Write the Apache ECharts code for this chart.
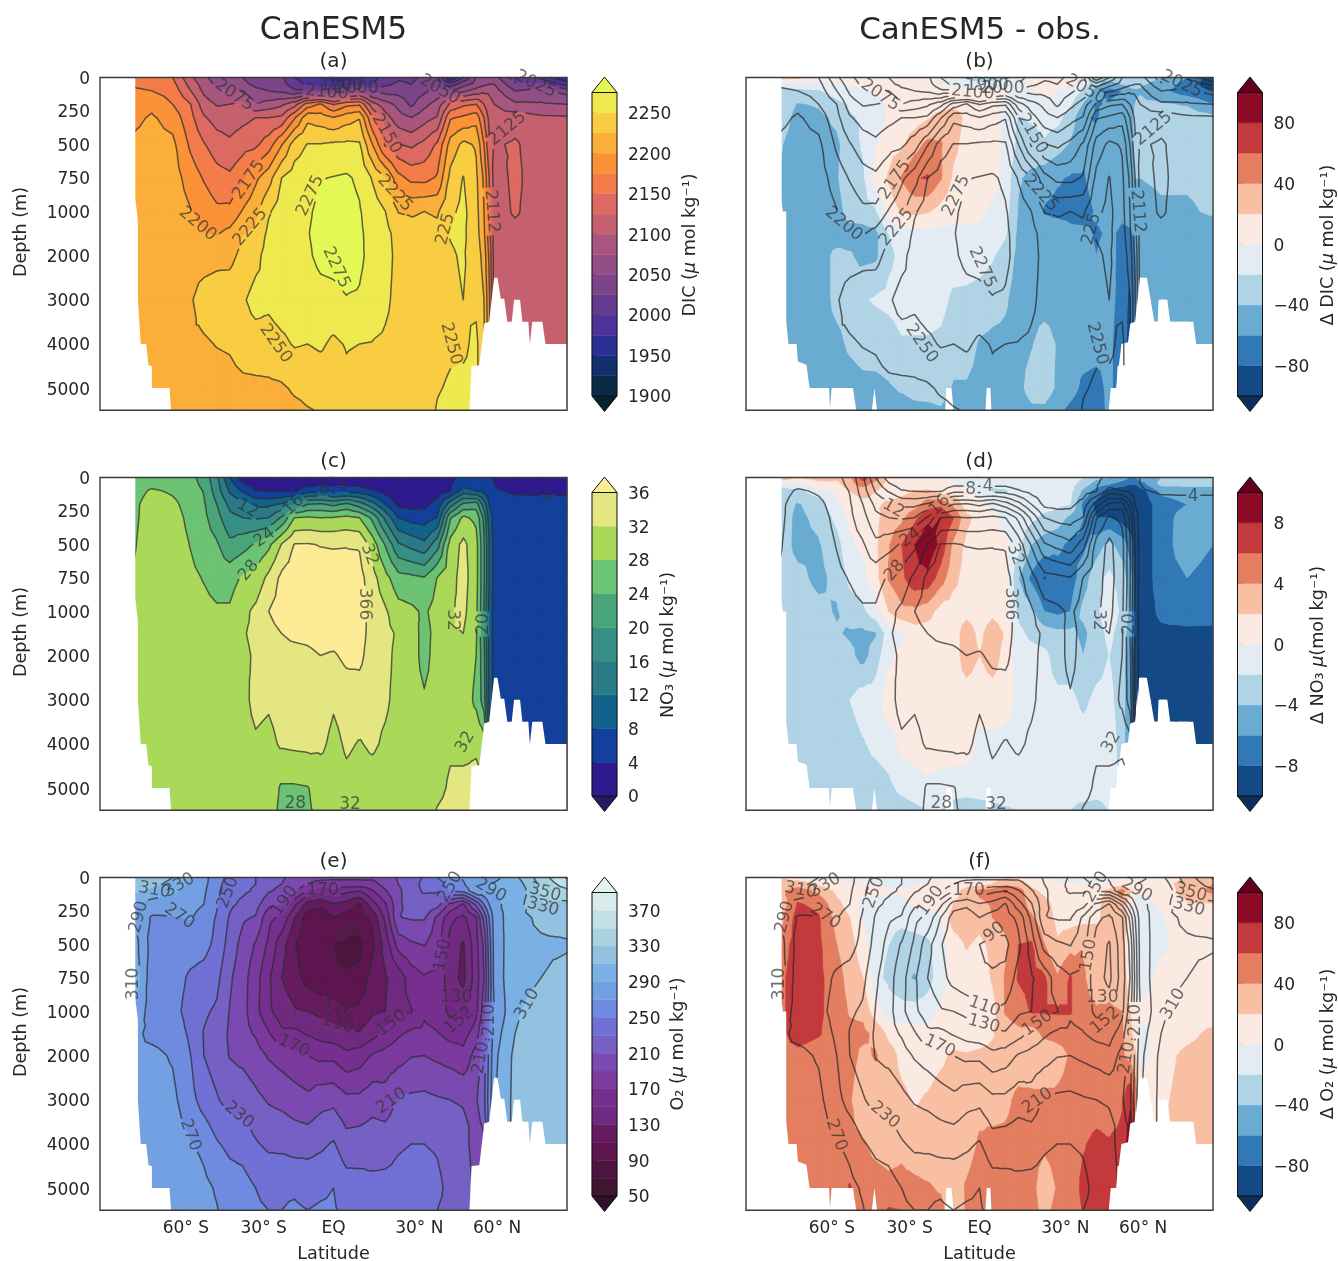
<!DOCTYPE html>
<html><head><meta charset="utf-8">
<style>html,body{margin:0;padding:0;background:#fff}#c{width:1338px;height:1261px}</style>
<script src="https://cdn.jsdelivr.net/npm/echarts@6/dist/echarts.min.js"></script>
</head><body><div id="c"></div>
<script>
const LAT=[-77,-70,-62,-55,-50,-45,-40,-35,-30,-25,-20,-15,-10,-5,0,5,10,15,20,25,30,35,40,45,50,55,58,60,62,70,80,90];
const DEPTH=[0,50,100,200,300,500,750,1000,1500,2000,3000,4000,5000,5500];
const LAT_TICKS=[-60,-30,0,30,60];
const LAT_TICK_LABELS=['60° S','30° S','EQ','30° N','60° N'];
const DEPTH_TICKS=[0,250,500,750,1000,2000,3000,4000,5000];
const DEPTH_TICKS_RIGHT=[0,500,1000,2000,3000,4000,5000];

// one row per latitude, one value per depth
const DIC=[
[2165,2172,2178,2186,2194,2205,2210,2212,2214,2215,2215,2215,2215,2215],
[2165,2170,2175,2194,2203,2210,2213,2215,2215,2215,2215,2215,2215,2215],
[2150,2158,2165,2175,2190,2206,2212,2216,2218,2218,2218,2216,2215,2215],
[2105,2115,2125,2150,2157,2170,2188,2201,2208,2215,2223,2222,2215,2215],
[2080,2088,2095,2112,2128,2152,2173,2190,2201,2215,2235,2222,2213,2212],
[2065,2070,2078,2098,2115,2137,2160,2180,2198,2218,2238,2226,2214,2212],
[2055,2065,2078,2100,2112,2130,2155,2181,2207,2218,2240,2228,2216,2212],
[2050,2055,2075,2105,2118,2140,2170,2202,2224,2232,2247,2238,2218,2214],
[2040,2045,2055,2075,2125,2145,2195,2218,2230,2243,2258,2240,2219,2215],
[2040,2042,2050,2085,2125,2163,2215,2247,2256,2260,2255,2240,2220,2215],
[2030,2035,2045,2095,2130,2198,2250,2262,2265,2268,2262,2245,2222,2216],
[2000,2010,2030,2115,2172,2238,2262,2266,2268,2270,2264,2252,2228,2220],
[1985,1995,2030,2162,2218,2251,2266,2272,2274,2272,2264,2250,2230,2224],
[1975,1990,2030,2178,2212,2251,2274,2280,2281,2280,2268,2254,2232,2226],
[1960,1980,2030,2148,2201,2254,2276,2282,2283,2281,2270,2245,2232,2228],
[1960,1985,2045,2168,2214,2255,2278,2283,2284,2284,2274,2252,2243,2235],
[1970,1990,2060,2172,2223,2253,2271,2277,2279,2279,2273,2250,2238,2232],
[1990,2000,2040,2110,2152,2200,2248,2262,2266,2268,2265,2249,2235,2232],
[2010,2020,2040,2085,2110,2146,2226,2250,2258,2260,2255,2246,2235,2232],
[2020,2030,2040,2068,2085,2126,2183,2224,2240,2242,2242,2240,2234,2232],
[2020,2025,2035,2045,2075,2120,2168,2222,2234,2238,2240,2238,2234,2232],
[2030,2035,2045,2068,2090,2132,2167,2225,2234,2238,2240,2240,2238,2235],
[2030,2040,2060,2085,2102,2154,2178,2222,2232,2238,2240,2242,2248,2252],
[1950,2010,2050,2130,2172,2210,2232,2245,2251,2248,2246,2246,2253,2258],
[2000,2040,2070,2145,2180,2231,2251,2256,2254,2252,2250,2246,2255,2258],
[2050,2060,2085,2150,2190,2222,2230,2234,2236,2240,2245,2255,2256,2258],
[2060,2070,2095,2125,2150,2175,2195,2200,2205,2215,2225,2230,2230,2230],
[2060,2075,2095,2110,2118,2130,2150,2155,2160,2170,2180,2185,2185,2185],
[2060,2075,2085,2100,2105,2122,2115,2114,2112,2112,2112,2112,2112,2112],
[2010,2030,2050,2080,2115,2128,2130,2128,2118,2112,2110,2110,2110,2110],
[1990,2030,2060,2078,2105,2112,2112,2112,2112,2112,2110,2110,2110,2110],
[1950,1990,2040,2075,2103,2110,2110,2110,2110,2108,2108,2108,2108,2108]];
const NO3=[
[26,26,26.5,27,27,27.5,28.5,29,29,29,29,29,29,29],
[25,27,28.5,30,30.5,31,31,31,30,30,30,30,30,30],
[25,26,27.5,28.8,29.5,30,30.5,30.5,30,30,30,30,30,30],
[25,25.5,26,26.5,27,27.8,28.8,29.5,30,30,30,30,30,30],
[22.5,23,23.8,24.5,25,26,27.8,29,30,30,30,30,30,30],
[17,17.5,18,20,21.5,24.5,26.5,28.5,30,30,30,30,30,30],
[8,10,11.5,15,17,21,26.5,28.5,30,30,30,30,30,30],
[2,4.5,7.5,13.5,16,22.5,28.5,31,31.8,31.5,31,30.5,30,30],
[1,2,4.3,11,15.5,24.5,29.5,32.8,32.5,32.3,33,31.5,30.5,30],
[1,2,3.8,11,16,27,33,36,35,34,32.5,31,30,30],
[1,2,3.5,12.5,20.5,32.2,37,37.5,36,34.5,33.5,32.5,27.5,27],
[1,2,3.5,16,28,36.2,38,38,37,34.5,33.5,32.8,27.5,27],
[1,3,6.5,20,28.5,36.3,38.5,38.5,37.2,35,34,33,27.8,27.5],
[1,3,6.8,20.5,28,35.8,38.5,38.5,38,36,34,32.8,29.5,29],
[1,3,6.3,19,28.2,35.6,38.5,38.8,38,35.5,32.5,31,30,30],
[1,3,6.6,21,29,35.7,38.5,38.8,38.5,37,33.5,32.5,31,30.5],
[1,3,6.2,18,28,35.6,37.5,38,38,37,34,31.8,30.5,30],
[1,2,4.4,13.5,23,30.2,33.5,34.5,34,34,33,32.5,30.5,30],
[1,1.5,2.5,8,15,23.6,29.3,32.5,33,33,32.5,31.5,30,30],
[0.8,1,1.5,3,8,16.5,25.5,29.5,31.5,31,31,30.5,30,30],
[0.5,0.8,1,2.5,6.5,14.7,25,28.8,30,30,30,30,30,30],
[0.5,0.8,1.2,3,6,13,24.3,27.4,26.5,26.5,28.5,30,30,30],
[0.8,1.5,2,5.5,8.2,18.3,28.1,29.5,29.5,30,30,30.5,31,32.2],
[3,3.5,3.8,14,23.5,29.5,30.5,31.5,31.8,30.8,30.5,31.5,32.5,33],
[5,6.5,9.5,21,28.8,33,33.5,33,32,31,30.5,31,33,33.5],
[5,6,8,22,27,29.5,29.5,29,28.5,28,27,31.5,33,33.5],
[5,6,7,14,19,20.5,20.5,20,20,21,22,30,33,33],
[4.5,5.5,6,8,10,12,12,11,11,11,11,15,30,30],
[3.8,4,4.3,6,6,6,6,6,6,6,6,6,6,6],
[2,2.5,3.6,5,6,6.5,6.5,6.5,6.5,6.5,6.5,6.5,6.5,6.5],
[2,2.5,3.5,5,6,6.5,6.5,6.5,6.5,6.5,6.5,6.5,6.5,6.5],
[2,2.5,3.5,5,6,6.5,6.5,6.5,6.5,6.5,6.5,6.5,6.5,6.5]];
const O2=[
[325,322,315,292,285,300,305,290,275,272,272,272,272,272],
[320,315,305,280,268,262,258,258,265,275,280,280,280,280],
[310,305,295,275,269,262,258,256,262,268,275,280,285,285],
[292,285,282,276,271,258,247,243,246,250,256,271,283,285],
[275,275,273,270,262,256,243,233,229,230,242,265,275,276],
[262,258,255,252,248,245,235,227,222,220,232,252,268,271],
[242,238,236,234,228,222,213,209,207,209,222,245,260,262],
[235,232,233,226,213,203,198,197,196,205,222,242,258,260],
[230,230,228,218,208,188,178,176,188,198,215,232,250,252],
[218,215,212,195,175,166,153,154,172,188,208,226,246,250],
[212,210,205,190,165,138,130,140,154,182,205,225,248,250],
[205,203,195,155,130,112,118,132,155,175,200,222,248,252],
[200,190,170,120,100,95,102,130,148,170,195,222,245,250],
[198,178,155,115,95,90,94,125,142,165,203,226,247,252],
[195,180,165,128,110,90,92,118,138,165,205,232,250,252],
[195,180,155,122,100,85,92,110,135,155,195,218,240,245],
[195,180,150,108,100,85,95,115,132,160,195,220,238,242],
[195,182,168,142,115,105,118,127,142,172,202,222,235,238],
[202,198,188,168,155,138,128,130,155,178,198,222,236,238],
[212,210,205,205,209,178,138,148,167,182,212,228,236,240],
[222,222,225,222,212,187,160,149,174,189,214,230,238,242],
[232,235,232,222,212,191,168,167,174,190,215,230,238,240],
[250,240,232,218,186,178,165,162,171,186,212,228,234,230],
[262,258,252,185,155,142,138,145,163,182,210,222,225,225],
[272,268,255,168,145,128,125,142,162,176,208,218,222,222],
[280,285,288,215,168,162,160,165,180,198,208,200,205,205],
[280,285,285,250,215,195,190,200,215,220,225,205,205,205],
[285,290,288,270,250,240,235,240,250,255,260,260,260,260],
[285,292,290,285,280,278,278,270,280,285,288,288,288,288],
[305,298,292,300,303,304,305,308,310,315,316,316,316,316],
[340,335,332,329,314,307,310,316,318,318,318,318,318,318],
[372,360,345,325,318,308,316,318,318,318,318,318,318,318]];
const D_DIC=[
[30,-15,-28,-25,-28,-38,-42,-45,-48,-50,-50,-50,-50,-50],
[25,-10,-25,-42,-48,-50,-50,-50,-50,-50,-50,-50,-50,-50],
[8,-8,-22,-38,-45,-48,-50,-50,-50,-50,-50,-50,-50,-50],
[5,-3,-12,-25,-36,-44,-42,-48,-50,-35,-35,-45,-50,-50],
[8,2,-8,-18,-22,-30,-28,-32,-48,-38,-32,-37,-48,-50],
[12,6,-4,-14,-18,-18,-24,-30,-48,-46,-22,-33,-45,-50],
[15,10,2,-6,-10,-2,8,-22,-45,-44,-18,-32,-45,-48],
[14,10,5,2,2,12,22,8,-20,-25,-15,-30,-42,-45],
[12,10,5,4,6,16,42,22,-10,-15,-12,-22,-38,-48],
[10,8,6,6,10,32,58,25,-8,-12,-12,-22,-34,-45],
[6,6,6,8,18,45,62,22,-6,-12,-12,-22,-32,-45],
[-8,0,5,10,28,42,42,12,-6,-10,-14,-24,-32,-42],
[-15,-5,6,15,32,25,16,8,-6,-10,-24,-32,-42,-50],
[-25,-10,6,10,14,12,10,6,-5,-10,-25,-32,-42,-46],
[-35,-15,5,8,8,10,10,3,-4,-12,-28,-42,-45,-46],
[-35,-12,4,5,6,10,8,-4,-8,-18,-32,-45,-44,-50],
[-25,-10,2,-2,-5,-6,-8,-12,-18,-28,-38,-44,-48,-55],
[-10,-4,-2,-8,-22,-25,-38,-42,-45,-46,-48,-48,-48,-55],
[0,3,-2,-10,-18,-28,-45,-47,-48,-50,-50,-42,-30,-45],
[15,18,8,-6,-14,-22,-52,-62,-50,-50,-50,-30,-28,-45],
[12,15,-2,-8,-14,-32,-58,-65,-50,-50,-50,-42,-44,-55],
[8,4,-8,-18,-30,-42,-62,-65,-56,-50,-50,-50,-52,-65],
[-4,-10,-22,-42,-58,-55,-62,-68,-56,-54,-50,-50,-65,-72],
[-40,-35,-50,-62,-62,-52,-52,-58,-62,-60,-55,-52,-68,-72],
[-30,-50,-68,-58,-50,-48,-50,-55,-58,-55,-52,-55,-55,-55],
[-25,-40,-60,-50,-46,-48,-50,-58,-62,-65,-70,-75,-75,-75],
[-30,-35,-45,-44,-44,-46,-48,-55,-62,-72,-85,-85,-85,-85],
[-30,-35,-42,-40,-38,-38,-40,-52,-58,-60,-62,-62,-62,-62],
[-35,-38,-42,-36,-32,-34,-40,-45,-47,-48,-48,-48,-48,-48],
[-40,-45,-55,-38,-30,-30,-38,-42,-48,-50,-50,-50,-50,-50],
[-60,-70,-72,-42,-30,-30,-38,-42,-48,-50,-50,-50,-50,-50],
[-95,-92,-82,-60,-35,-32,-36,-38,-48,-45,-50,-50,-50,-50]];
const D_NO3=[
[4,-1.5,-3,-3,-3,-3,-3,-3,-3,-3,-3,-3,-3,-3],
[2,-0.5,-2.5,-4.2,-4.5,-4.6,-3.5,-3,-3,-3,-3,-3,-3,-3],
[3,1,-1,-3,-3.5,-4.2,-4.5,-3.5,-3,-3,-3,-3,-3,-3],
[2.5,1.5,0.5,-0.5,-1.5,-2.8,-3.5,-4.2,-3.8,-3,-3,-3,-3,-3],
[3.5,3,2,1.2,0.5,-0.5,-1.5,-3,-4.3,-3.5,-2,-3,-3,-3],
[7,5,2.5,1.6,1,0.5,-0.8,-2.5,-4.5,-4.8,-1,-2.2,-3,-3],
[5,3,2,1.8,1.5,1.6,1.3,-0.7,-4.2,-3,-1,-1.5,-3,-3],
[1.5,1.2,1.2,2.2,3,3.8,4.2,2,-1,-0.5,1.2,-1,-2.5,-3],
[0.8,1,1.6,2.5,3.5,6,5.5,3.5,-0.5,0.6,1,0.6,-1.5,-3],
[0.8,1,2,3,5.5,8,7.5,3.5,1,1,1,1,-1,-2.5],
[0.6,1,2.2,5,7.5,9.5,7.5,2.8,1,1,1,1,-0.5,-2],
[0.3,0.5,1,5.5,8,7.5,5,1.2,1,1,1,1,-0.8,-2],
[-0.3,0.3,0.8,3.5,6,3.5,2.5,1,1,1,1,1,-1,-3],
[-1,-0.8,0.3,0.8,2.5,1.5,1.2,1.4,3,3,1,0.8,-1,-3.5],
[-1.2,-1.5,-0.6,0.5,1.2,0.8,0.8,0.9,1.5,2,0.8,-0.5,-1,-3],
[-1.2,-1.8,-2.2,-0.5,0.5,0.8,1,1.5,3,3,1,-0.5,-1.2,-2.5],
[-1,-1.5,-2.2,-1.2,-0.8,0.5,0.8,1,1.8,1.2,0.8,-0.6,-1.2,-2.2],
[-0.8,-1,-1.2,-1.5,-1.5,-1.2,-4,-2.5,-1.5,-1,-0.6,-0.8,-1.2,-2],
[-0.5,-0.8,-1,-1.2,-1.5,-4,-6.5,-3.5,-2.5,-1.2,-1,-0.8,-1,-2],
[-0.5,-0.8,-1,-1.2,-2.5,-5,-8.2,-6,-3,-1.5,-1.2,-0.8,-0.8,-1.5],
[-0.5,-0.8,-0.8,-1.5,-3,-5.5,-7,-6.5,-3.5,-3,-1.5,-0.8,-0.8,-1.5],
[-1,-1.2,-1.5,-2,-4.5,-6.5,-7,-6,-3.5,-3,-1.5,-0.8,-1.5,-2],
[-2,-3,-4.5,-6.5,-6,-6.5,-5,-3.5,-4.5,-4,-2.5,-1,-1.2,-2.5],
[-3.5,-5,-7,-8.5,-8,-5,-2.8,-2.5,-3,-3,-1.5,-0.8,-1.5,-2.5],
[-4,-6,-9,-9.5,-8,-3.5,-1.5,-0.7,-1.5,-2,-1.5,-0.8,-1.5,-2],
[-5,-7,-10,-10,-9,-5,-3,-2.5,-3,-3,-3,-3,-2,-2],
[-6,-8,-10,-10,-9.5,-7,-5,-4.5,-5,-6,-6,-6,-6,-6],
[-6,-8,-10,-10,-10,-9.5,-9,-9,-9,-9.5,-9.5,-9.5,-9.5,-9.5],
[-5,-7,-9,-9.5,-9.5,-9.5,-9.5,-9.5,-9.5,-9.5,-9.5,-9.5,-9.5,-9.5],
[-4,-3.5,-5.5,-7,-7,-7,-7,-7.5,-8.5,-9,-9,-9,-9,-9],
[-2.5,-3.5,-5,-6,-5,-4.8,-6,-7,-8.5,-9,-9,-9,-9,-9],
[-2.5,-3.5,-5,-6,-5,-6,-7,-7.2,-8.5,-9,-9,-9,-9,-9]];
const D_O2=[
[20,25,35,25,30,48,55,55,55,55,55,55,55,55],
[10,30,50,62,70,70,70,70,68,55,55,50,50,50],
[8,15,35,55,62,64,65,64,62,50,48,46,45,45],
[-5,8,15,25,32,40,48,50,48,46,45,45,45,45],
[-8,2,10,12,20,28,32,38,45,48,42,45,62,58],
[-5,4,8,-8,-2,8,20,35,45,35,25,42,48,55],
[-8,0,6,-10,-12,-14,-14,8,35,42,28,35,48,50],
[-10,-4,2,-8,-14,-20,-25,-10,15,28,28,32,45,62],
[-12,-6,2,-5,-14,-30,-35,-12,10,15,24,35,46,60],
[-8,-2,5,2,-8,-30,-42,-12,8,12,18,28,45,55],
[-2,2,6,3,-5,-25,-30,-8,6,10,22,28,42,46],
[-2,2,6,5,-2,-8,-8,4,6,15,30,30,38,45],
[1,4,10,20,30,10,8,6,6,24,32,32,30,25],
[1,8,30,25,35,22,8,6,6,22,32,32,42,42],
[2,12,45,35,28,15,8,8,8,25,35,42,50,45],
[8,20,48,42,40,25,22,12,18,25,32,45,45,45],
[18,35,62,48,48,35,42,42,30,25,35,45,48,50],
[15,30,50,48,48,60,62,50,35,28,45,48,50,50],
[8,15,25,35,42,62,65,62,30,25,45,48,48,50],
[3,5,15,28,30,40,62,62,45,22,45,45,25,32],
[-5,3,6,12,15,22,42,62,48,30,45,48,42,48],
[-8,2,6,10,12,32,62,62,48,42,48,48,46,46],
[-5,2,5,8,14,38,42,45,45,45,46,58,66,62],
[-8,2,8,14,15,35,30,42,46,45,48,66,70,70],
[-10,5,25,30,30,22,35,42,44,42,48,62,70,70],
[-5,10,48,30,32,25,30,40,42,42,58,65,70,70],
[-3,5,25,8,10,8,8,20,30,35,75,95,95,95],
[-2,2,2,-8,-8,-8,-5,5,5,25,55,55,55,55],
[0,3,2,-8,-12,-14,-12,5,-5,-8,10,10,10,10],
[8,12,8,4,-2,-5,6,8,6,12,16,20,20,20],
[22,28,28,18,12,10,8,8,14,25,28,30,30,30],
[35,40,45,18,10,8,8,8,25,30,30,30,30,30]];

// white land / missing-data outlines, [latitude, depth]
const LAND_S=[[-90,0],[-76.4,0],[-76.4,900],[-75.4,1200],[-75.4,3000],[-74.3,4000],[-72.2,4000],[-71.3,4480],[-70,4500],[-70,5000],[-63.2,5000],[-62.6,5500],[-90,5500]];
const LAND_N=[[52.4,5500],[53.2,4500],[56.2,4480],[58.1,3540],[60,3500],[61.9,2500],[63.2,2500],[64.5,2980],[65.8,2980],[67,3500],[68.7,3500],[69.6,3000],[71.9,3000],[72.8,3500],[75.1,3500],[75.7,4000],[76.6,3500],[80.5,3500],[81.7,4000],[90,4000],[90,5500]];
const OBS_S=[[-90,0],[-76.3,0],[-76.3,1000],[-74.5,1000],[-74.5,3500],[-73.6,4000],[-70.5,4000],[-70,4400],[-66.7,4470],[-65.5,5000],[-58,5000],[-57.6,5450],[-57,5000],[-48.8,5000],[-47.5,5500],[-90,5500]];
const OBS_N=[[49.8,5500],[50.6,5000],[52.7,5000],[54.7,4000],[57.9,3950],[59.8,3500],[61.5,2500],[64.5,2500],[67.4,3500],[68.7,3500],[69,3000],[72.4,3000],[73.5,3500],[82.4,3500],[83.5,4000],[90,4000],[90,5500]];
const OBS_GAP1=[[-41.5,5500],[-40.5,5000],[-39.5,5500]];
const OBS_GAP2=[[-13.2,5500],[-12.8,5000],[-10.8,5000],[-10,5500]];
const OBS_GAP3=[[2.3,5500],[2.8,5000],[4.2,5000],[4.6,5500]];

// inline contour labels: text, latitude, depth, angle
const DIC_LABELS=[['2075',-38.3,132,-35],['2050',40.9,90,-30],['2025',77.9,50,-25],['2100',-2.6,112,-5],['1900',3,60,0],['2000',9,85,0],
['2125',67,382,40],['2150',20.4,420,-60],['2175',-32.6,765,55],['2200',-52.4,1285,-40],['2225',-32,1360,50],['2225',23.6,865,-48],
['2275',-8.9,882,65],['2275',1,2270,-65],['2250',-22.3,3995,-55],['2250',45.3,3995,-75],['225',43.2,1400,75],['2112',61,1000,-85]];
const NO3_LABELS=[['4',3.2,65,0],['8',-3.4,90,0],['12',-33.2,232,-30],['16',-15.3,207,45],['24',-26.6,450,35],['28',-32.6,695,50],['32',13.8,575,-70],
['366',12.1,945,-90],['32',46,1195,-90],['20',57.9,1285,90],['4',82.4,140,0],['32',50.8,3960,60],['28',-14.7,5350,0],['32',6.4,5365,0]];
const O2_LABELS=[['310',-69,95,-10],['330',-59.4,58,30],['290',-75,295,75],['270',-59.4,290,-35],['250',-40.6,112,70],['190',-18.8,175,55],['170',-4.2,100,0],
['90',5.7,408,40],['150',42.1,580,80],['130',47.3,900,0],['110',1.9,965,-20],['130',1.7,1285,-15],['150',22.4,1270,35],['152',48.5,1210,40],['170',-15.3,1790,-25],
['310',-77,795,90],['210',22.4,3030,35],['230',-36.4,3350,-40],['270',-55.2,3800,-70],['290',60.6,95,-30],['350',81.5,112,-15],['330',80.7,220,-15],['310',74.7,945,60],
['250',45,70,60],['210',60,1200,90],['210',56.8,2050,80]];

const DIC_LEVELS=[1900,1925,1950,1975,2000,2025,2050,2075,2100,2125,2150,2175,2200,2225,2250,2275];
const DIC_COLORS=['#04222f','#0b2a45','#13306e','#2b2f93','#4f3299','#653a91','#7c4589','#924f86','#a85680','#c5616f','#dd6a62','#f47c4a','#fb9238','#fbae3a','#f8cd42','#efe950','#e4f855'];
const DIC_TICKS=[1900,1950,2000,2050,2100,2150,2200,2250];
const NO3_LEVELS=[0,4,8,12,16,20,24,28,32,36];
const NO3_COLORS=['#2a1865','#2e1a8c','#12409a','#11638c','#2b7a88','#378f85','#4aa67a','#6cc373','#aad95a','#e4e682','#fdeb96'];
const NO3_TICKS=[0,4,8,12,16,20,24,28,32,36];
const O2_LEVELS=[50,70,90,110,130,150,170,190,210,230,250,270,290,310,330,350,370,390];
const O2_COLORS=['#30102a','#3f1530','#4e1440','#5d1550','#661b60','#702a80','#772f8f','#7a3a9e','#7a4ab0','#7560c4','#7070d5','#6f8be0','#72a0e2','#7ab0e4','#92c2e0','#a8d2e0','#c2e0e5','#d9ebea','#e6f2ef'];
const O2_TICKS=[50,90,130,170,210,250,290,330,370];
const RDBU=['#0a3060','#134a86','#3078b6','#6aabd1','#b0d3e6','#e4ecf3','#faeae1','#f8bfa3','#e47e60','#c23a3b','#8b0a26','#650021'];
const D_DIC_LEVELS=[-100,-80,-60,-40,-20,0,20,40,60,80,100];
const D_DIC_TICKS=[-80,-40,0,40,80];
const D_NO3_LEVELS=[-10,-8,-6,-4,-2,0,2,4,6,8,10];
const D_NO3_TICKS=[-8,-4,0,4,8];

const FONT='"DejaVu Sans"';
const INK='#262626';
const FS=17;
const NAME_FS=17.6;
const yT=d=>d<=1000?d:1000+(d-1000)*0.33;
const Y_MAX=yT(5500);

echarts.graphic.registerShape('polys',echarts.graphic.extendShape({
  shape:{polys:[]},
  buildPath(ctx,s){for(const p of s.polys){ctx.moveTo(p[0],p[1]);for(let i=2;i<p.length;i+=2)ctx.lineTo(p[i],p[i+1]);ctx.closePath();}}
}));
echarts.graphic.registerShape('segs',echarts.graphic.extendShape({
  shape:{segs:[]},
  buildPath(ctx,s){for(const g of s.segs){ctx.moveTo(g[0],g[1]);ctx.lineTo(g[2],g[3]);}}
}));

function cellsOf(field,api){
  const cells=[];
  for(let i=0;i<LAT.length-1;i++)for(let j=0;j<DEPTH.length-1;j++){
    const c=[[i,j],[i+1,j],[i+1,j+1],[i,j+1]].map(([a,b])=>{const p=api.coord([LAT[a],yT(DEPTH[b])]);return [p[0],p[1],field[a][b]];});
    const m=[0,1,2].map(k=>(c[0][k]+c[1][k]+c[2][k]+c[3][k])/4);
    cells.push({c,tris:[[c[0],c[1],m],[c[1],c[2],m],[c[2],c[3],m],[c[3],c[0],m]]});
  }
  return cells;
}
function clipKeep(poly,level,above){
  const out=[];const n=poly.length;
  for(let i=0;i<n;i++){
    const a=poly[i],b=poly[(i+1)%n];
    const ia=above?a[2]>=level:a[2]<=level,ib=above?b[2]>=level:b[2]<=level;
    if(ia)out.push(a);
    if(ia!==ib){const t=(level-a[2])/(b[2]-a[2]);out.push([a[0]+t*(b[0]-a[0]),a[1]+t*(b[1]-a[1]),level]);}
  }
  return out;
}
function fillSeries(gi,field,levels,colors){
  const bands=colors.map((col,k)=>[k===0?-1e9:levels[k-1],k===colors.length-1?1e9:levels[k]]);
  let cells=null;
  return {type:'custom',coordinateSystem:'cartesian2d',xAxisIndex:gi,yAxisIndex:gi,z:2,silent:true,
    data:bands.map((b,k)=>[0,0,k]),
    renderItem(params,api){
      if(!cells)cells=cellsOf(field,api);
      const k=params.dataIndex,lo=bands[k][0],hi=bands[k][1],polys=[];
      for(const cell of cells){
        const vs=cell.c.map(p=>p[2]);
        const mn=Math.min(...vs),mx=Math.max(...vs);
        if(mx<lo||mn>hi)continue;
        if(mn>=lo&&mx<=hi){polys.push(cell.c.flatMap(p=>[p[0],p[1]]));continue;}
        for(const t of cell.tris){
          let p=clipKeep(t,lo,true);if(p.length<3)continue;
          p=clipKeep(p,hi,false);if(p.length<3)continue;
          polys.push(p.flatMap(q=>[q[0],q[1]]));
        }
      }
      return {type:'polys',shape:{polys},style:{fill:colors[k],stroke:colors[k],lineWidth:0.7}};
    }};
}
function maskSeries(gi,outlines,z){
  return {type:'custom',coordinateSystem:'cartesian2d',xAxisIndex:gi,yAxisIndex:gi,z,silent:true,
    data:outlines.map((o,k)=>[0,0,k]),
    renderItem(params,api){
      const o=outlines[params.dataIndex];
      return {type:'polygon',shape:{points:o.map(p=>api.coord([p[0],yT(p[1])]))},style:{fill:'#fff'}};
    }};
}
function cutSegment(a,b,boxes){
  let spans=[[0,1]];
  for(const bx of boxes){
    const dx=b[0]-a[0],dy=b[1]-a[1];
    const u0=(a[0]-bx.x)*bx.c+(a[1]-bx.y)*bx.s,v0=-(a[0]-bx.x)*bx.s+(a[1]-bx.y)*bx.c;
    const du=dx*bx.c+dy*bx.s,dv=-dx*bx.s+dy*bx.c;
    let t0=0,t1=1,hit=true;
    for(const [p,q] of [[-du,u0+bx.w],[du,bx.w-u0],[-dv,v0+bx.h],[dv,bx.h-v0]]){
      if(p===0){if(q<0)hit=false;continue;}
      const r=q/p;
      if(p<0){if(r>t0)t0=r;}else{if(r<t1)t1=r;}
    }
    if(!hit||t0>=t1)continue;
    const next=[];
    for(const [s,e] of spans){
      if(t1<=s||t0>=e){next.push([s,e]);continue;}
      if(t0>s)next.push([s,t0]);
      if(t1<e)next.push([t1,e]);
    }
    spans=next;
  }
  return spans.map(([s,e])=>[a[0]+s*(b[0]-a[0]),a[1]+s*(b[1]-a[1]),a[0]+e*(b[0]-a[0]),a[1]+e*(b[1]-a[1])]);
}
function lineSeries(gi,field,levels,labels){
  let cells=null,boxes=null;
  return {type:'custom',coordinateSystem:'cartesian2d',xAxisIndex:gi,yAxisIndex:gi,z:4,silent:true,
    data:levels.map((l,k)=>[0,0,k]),
    renderItem(params,api){
      if(!cells){
        cells=cellsOf(field,api);
        boxes=labels.map(l=>{const p=api.coord([l[1],yT(l[2])]);const r=-l[3]*Math.PI/180;
          return {x:p[0],y:p[1],c:Math.cos(r),s:Math.sin(r),w:l[0].length*17*0.33+2,h:7};});
      }
      const lv=levels[params.dataIndex],segs=[];
      for(const cell of cells)for(const t of cell.tris){
        const pts=[];
        for(let i=0;i<3;i++){
          const a=t[i],b=t[(i+1)%3];
          if((a[2]<lv)!==(b[2]<lv)){const f=(lv-a[2])/(b[2]-a[2]);pts.push([a[0]+f*(b[0]-a[0]),a[1]+f*(b[1]-a[1])]);}
        }
        if(pts.length===2)segs.push(...cutSegment(pts[0],pts[1],boxes));
      }
      return {type:'segs',shape:{segs},style:{fill:null,stroke:'rgba(40,40,40,0.72)',lineWidth:1.5,lineCap:'round'}};
    }};
}
function labelSeries(gi,labels){
  return {type:'custom',coordinateSystem:'cartesian2d',xAxisIndex:gi,yAxisIndex:gi,z:6,silent:true,
    data:labels.map((l,k)=>[l[1],yT(l[2]),k]),
    renderItem(params,api){
      const l=labels[params.dataIndex],p=api.coord([l[1],yT(l[2])]);
      return {type:'text',x:p[0],y:p[1],rotation:l[3]*Math.PI/180,
        style:{text:l[0],fontFamily:FONT,fontSize:17,fill:'rgba(50,50,50,0.7)',align:'center',verticalAlign:'middle'}};
    }};
}
function frameSeries(gi){
  return {type:'custom',coordinateSystem:'cartesian2d',xAxisIndex:gi,yAxisIndex:gi,z:7,silent:true,
    data:[[0,0]],
    renderItem(params,api){
      const a=api.coord([-90,0]),b=api.coord([90,Y_MAX]);
      return {type:'rect',shape:{x:a[0],y:a[1],width:b[0]-a[0],height:b[1]-a[1]},style:{fill:null,stroke:'#3a3a3a',lineWidth:1.4}};
    }};
}
function cbSeries(gi,levels,colors){
  const n=levels.length-1;
  return {type:'custom',coordinateSystem:'cartesian2d',xAxisIndex:gi,yAxisIndex:gi,z:3,silent:true,
    data:colors.map((c,k)=>[0.5,k===0?levels[0]:levels[k-1],k]),
    renderItem(params,api){
      const k=params.dataIndex;
      const L=api.coord([0,levels[0]]),R=api.coord([1,levels[0]]),T=api.coord([0,levels[n]]);
      const tip=15.5,mid=(L[0]+R[0])/2;
      if(k===0)return {type:'polygon',shape:{points:[[L[0],L[1]],[R[0],L[1]],[mid,L[1]+tip]]},style:{fill:colors[0],stroke:'#111',lineWidth:1}};
      if(k===colors.length-1)return {type:'polygon',shape:{points:[[L[0],T[1]],[R[0],T[1]],[mid,T[1]-tip]]},style:{fill:colors[k],stroke:'#111',lineWidth:1}};
      const a=api.coord([0,levels[k-1]]),b=api.coord([1,levels[k]]);
      return {type:'rect',shape:{x:a[0],y:b[1],width:b[0]-a[0],height:a[1]-b[1]},style:{fill:colors[k],stroke:colors[k],lineWidth:0.4}};
    }};
}

const panels=[
 {x:100,y:77,f:DIC,lv:DIC_LEVELS,col:DIC_COLORS,line:DIC,lineLv:DIC_LEVELS,lab:DIC_LABELS,cbt:DIC_TICKS,right:false,row:0},
 {x:746,y:77,f:D_DIC,lv:D_DIC_LEVELS,col:RDBU,line:DIC,lineLv:DIC_LEVELS,lab:DIC_LABELS,cbt:D_DIC_TICKS,right:true,row:0},
 {x:100,y:477,f:NO3,lv:NO3_LEVELS,col:NO3_COLORS,line:NO3,lineLv:NO3_LEVELS,lab:NO3_LABELS,cbt:NO3_TICKS,right:false,row:1},
 {x:746,y:477,f:D_NO3,lv:D_NO3_LEVELS,col:RDBU,line:NO3,lineLv:NO3_LEVELS,lab:NO3_LABELS,cbt:D_NO3_TICKS,right:true,row:1},
 {x:100,y:877,f:O2,lv:O2_LEVELS,col:O2_COLORS,line:O2,lineLv:O2_LEVELS,lab:O2_LABELS,cbt:O2_TICKS,right:false,row:2},
 {x:746,y:877,f:D_O2,lv:D_DIC_LEVELS,col:RDBU,line:O2,lineLv:O2_LEVELS,lab:O2_LABELS,cbt:D_DIC_TICKS,right:true,row:2}];

const grid=[],xAxis=[],yAxis=[],series=[];
const tickStyle={show:true,length:5,lineStyle:{color:'#333',width:1.3}};
panels.forEach((p,i)=>{
  const bottom=p.row===2;
  grid.push({left:p.x,top:p.y+0.5,width:467,height:332.7,containLabel:false,outerBoundsMode:'none'});
  xAxis.push({gridIndex:i,type:'value',min:-90,max:90,splitLine:{show:false},axisLine:{show:false},
    name:bottom?'Latitude':'',nameLocation:'middle',nameGap:35,nameTextStyle:{fontFamily:FONT,fontSize:NAME_FS,color:INK},
    axisTick:bottom?{...tickStyle,customValues:LAT_TICKS}:{show:false},
    axisLabel:bottom?{show:true,customValues:LAT_TICKS,margin:10,hideOverlap:false,showMinLabel:true,showMaxLabel:true,
      formatter:v=>{const t=LAT_TICK_LABELS[LAT_TICKS.indexOf(v)];return v===0?'{e|'+t+'}':'{s|'+t+'}';},
      rich:{s:{fontFamily:FONT,fontSize:FS,color:INK,padding:[0,0,0,16]},e:{fontFamily:FONT,fontSize:FS,color:INK}}}:{show:false}});
  const dt=p.right?DEPTH_TICKS_RIGHT:DEPTH_TICKS;
  yAxis.push({gridIndex:i,type:'value',inverse:true,min:0,max:Y_MAX,splitLine:{show:false},axisLine:{show:false},
    axisTick:{...tickStyle,customValues:dt.map(yT)},
    axisLabel:p.right?{show:false}:{show:true,customValues:dt.map(yT),margin:10,verticalAlign:'top',lineHeight:4,fontFamily:FONT,fontSize:FS,color:INK,
      formatter:v=>String(dt.find(d=>Math.abs(yT(d)-v)<1e-6))}});
  series.push(fillSeries(i,p.f,p.lv,p.col));
  if(p.right)series.push(maskSeries(i,[OBS_S,OBS_N,OBS_GAP1,OBS_GAP2,OBS_GAP3],3));
  series.push(lineSeries(i,p.line,p.lineLv,p.lab));
  series.push(maskSeries(i,[LAND_S,LAND_N],5));
  series.push(labelSeries(i,p.lab));
  series.push(frameSeries(i));
});
panels.forEach((p,k)=>{
  const i=grid.length;
  const cx=p.right?1237.5:592;
  grid.push({left:cx,top:p.y+15.5,width:25,height:303.5,outerBoundsMode:'none'});
  xAxis.push({gridIndex:i,type:'value',min:0,max:1,show:false});
  const L=p.lv;
  yAxis.push({gridIndex:i,type:'value',position:'right',min:L[0],max:L[L.length-1],splitLine:{show:false},
    axisLine:{show:true,lineStyle:{color:'#111',width:1}},
    axisTick:{show:true,length:5,customValues:p.cbt,lineStyle:{color:'#333',width:1.3}},
    axisLabel:{show:true,customValues:p.cbt,margin:11,verticalAlign:'top',lineHeight:4,fontFamily:FONT,fontSize:FS,color:INK,formatter:v=>String(v).replace('-','\u2212')}});
  series.push(cbSeries(i,L,p.col));
  series.push({type:'custom',coordinateSystem:'cartesian2d',xAxisIndex:i,yAxisIndex:i,z:4,silent:true,data:[[0,0]],
    renderItem(params,api){
      const a=api.coord([0,L[0]]),b=api.coord([1,L[L.length-1]]);
      return {type:'rect',shape:{x:a[0],y:b[1],width:b[0]-a[0],height:a[1]-b[1]},style:{fill:null,stroke:'#111',lineWidth:1}};
    }});
});

const textG=(t,x,y,size)=>({type:'text',x,y,style:{text:t,fontFamily:FONT,fontSize:size,fill:INK,align:'center',verticalAlign:'middle'}});
const rich={i:{fontStyle:'italic',fontFamily:FONT,fontSize:NAME_FS,fill:INK,color:INK}};
const rotG=(t,x,y)=>({type:'text',x,y,rotation:Math.PI/2,style:{text:t,rich,fontFamily:FONT,fontSize:NAME_FS,fill:INK,align:'center',verticalAlign:'middle'}});
const graphic=[
 textG('CanESM5',333.5,31,31.3),textG('CanESM5 - obs.',980,31,31),
 textG('(a)',333.5,62,20),textG('(b)',979.5,62,20),
 textG('(c)',333.5,461.5,20),textG('(d)',979.5,461.5,20),
 textG('(e)',333.5,861.5,20),textG('(f)',979.5,861.5,20),
 rotG('Depth (m)',21,232),rotG('Depth (m)',21,632),rotG('Depth (m)',21,1032),
 rotG('DIC ({i|μ} mol kg⁻¹)',690,245),rotG('NO₃ ({i|μ} mol kg⁻¹)',668,645),rotG('O₂ ({i|μ} mol kg⁻¹)',678,1044),
 rotG('Δ DIC ({i|μ} mol kg⁻¹)',1328,245),rotG('Δ NO₃ {i|μ}(mol kg⁻¹)',1318,645),rotG('Δ O₂ ({i|μ} mol kg⁻¹)',1328,1044)];

const chart=echarts.init(document.getElementById('c'),null,{renderer:'canvas'});
chart.setOption({animation:false,backgroundColor:'#fff',textStyle:{fontFamily:FONT},grid,xAxis,yAxis,series,graphic});
</script></body></html>
